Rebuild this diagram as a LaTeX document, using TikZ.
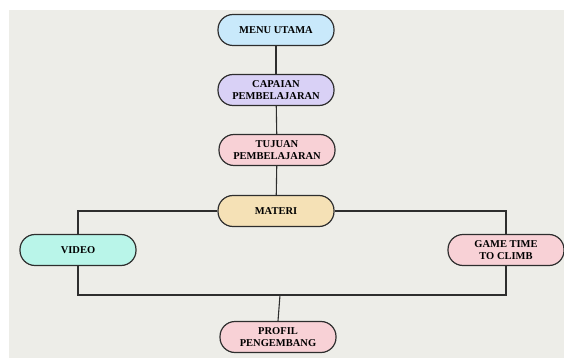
\documentclass[tikz,border=0pt]{standalone}
\usepackage{fontspec}
\setmainfont{Liberation Serif}
\usepackage{tikz}
\usetikzlibrary{positioning, calc}

\definecolor{bgpaper}{HTML}{EDEDE8}
\definecolor{edgegray}{HTML}{2E2E2E}
\definecolor{fillmenu}{HTML}{C9E9FB}
\definecolor{fillcapaian}{HTML}{D9D1F6}
\definecolor{fillpink}{HTML}{F8D1D6}
\definecolor{fillmateri}{HTML}{F5E1B6}
\definecolor{fillvideo}{HTML}{B9F5E9}

\tikzset{
    menubox/.style={draw=edgegray, line width=1.2pt, rounded corners=15pt,
        minimum width=116pt, minimum height=31pt, align=center,
        font=\bfseries\fontsize{10.5}{11.5}\selectfont, inner sep=1pt},
    link/.style={draw=edgegray, line width=1.1pt}
}

\begin{document}
\begin{tikzpicture}[x=1pt, y=-1pt]
        \def\pagew{564}
        \def\pageh{358}

        % paper
        \useasboundingbox (0,0) rectangle (\pagew,\pageh);
        \fill[bgpaper] (9,10) rectangle (\pagew,\pageh);

        % boxes
        \node[menubox, fill=fillmenu] (menu) at (276,30) {MENU UTAMA};
        \node[menubox, fill=fillcapaian] (capaian) at (276,90) {CAPAIAN\\PEMBELAJARAN};
        \node[menubox, fill=fillpink] (tujuan) at (277,150) {TUJUAN\\PEMBELAJARAN};
        \node[menubox, fill=fillmateri] (materi) at (276,211) {MATERI};
        \node[menubox, fill=fillvideo] (video) at (78,250) {VIDEO};
        \node[menubox, fill=fillpink] (game) at (506,250) {GAME TIME\\TO CLIMB};
        \node[menubox, fill=fillpink] (profil) at (278,337) {PROFIL\\PENGEMBANG};

        \coordinate (bus) at (280,295);

        % draw vertical chain
        \draw[link] (menu) -- (capaian);
        \draw[link] (capaian) -- (tujuan);
        \draw[link] (tujuan) -- (materi);

        % draw branches
        \draw[link] (materi.west) -| (video.north);
        \draw[link] (materi.east) -| (game.north);
        \draw[link] (video.south) |- (bus) -| (game.south);
        \draw[link] (bus) -- (profil.north);
    \end{tikzpicture}
\end{document}
